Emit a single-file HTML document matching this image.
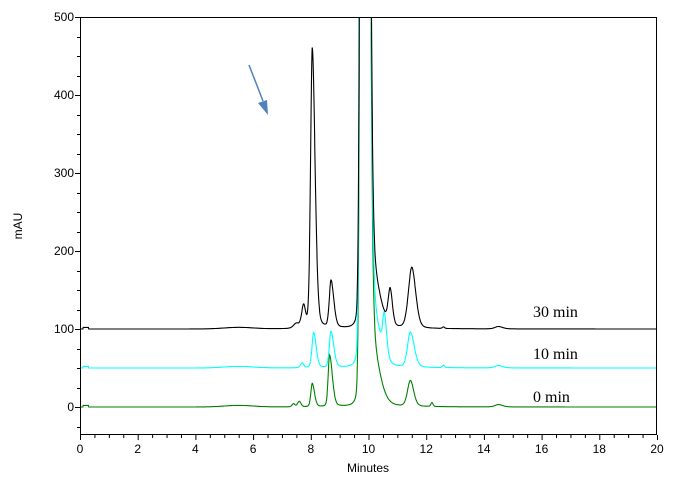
<!DOCTYPE html>
<html><head><meta charset="utf-8"><style>
html,body{margin:0;padding:0;background:#fff;}
svg{display:block;font-family:"Liberation Sans",sans-serif;}
</style></head><body>
<svg id="s" width="678" height="484" viewBox="0 0 678 484" xmlns="http://www.w3.org/2000/svg">
<defs><clipPath id="c"><rect x="80" y="17" width="577" height="418"/></clipPath></defs>
<rect x="0" y="0" width="678" height="484" fill="#fff"/>
<g id="ticks" stroke="#000" stroke-width="1"></g>
<g id="traces" clip-path="url(#c)" fill="none" stroke-width="1.1"></g>
<rect x="80.5" y="17.5" width="576" height="417" fill="none" stroke="#000"/>
<g font-size="12" text-anchor="end" id="ylab"></g>
<g font-size="12" text-anchor="middle" id="xlab"></g>
<text x="368" y="472" font-size="12" text-anchor="middle">Minutes</text>
<text transform="translate(22,226) rotate(-90)" font-size="12" text-anchor="middle">mAU</text>
<g font-family="Liberation Serif,serif" font-size="16">
<text x="533" y="317">30 min</text>
<text x="533" y="359">10 min</text>
<text x="533" y="402">0 min</text>
</g>
<line x1="249" y1="65" x2="263" y2="101" stroke="#4f81bd" stroke-width="1.5"/>
<polygon points="268,115 258,103 267,100" fill="#4f81bd"/>
</svg>
<script>
var X=function(t){return 80+t*28.85;},Y=function(v){return 407-0.78*v;};
var ns="http://www.w3.org/2000/svg",tk=document.getElementById('ticks'),d='';
for(var i=0;i<=40;i++){var x=X(i*0.5)+0.5;d+='M'+x+' 435v'+(i%4==0?5:3);}
for(var v=-25;v<=500;v+=25){var y=Math.round(Y(v))+0.5;d+='M80 '+y+'h'+(v%100==0?-5:-3);}
var p=document.createElementNS(ns,'path');p.setAttribute('d',d);tk.appendChild(p);
var yl=document.getElementById('ylab');
for(var v=0;v<=500;v+=100){var t=document.createElementNS(ns,'text');t.setAttribute('x',74);t.setAttribute('y',Y(v)+4);t.textContent=v;yl.appendChild(t);}
var xl=document.getElementById('xlab');
for(var m=0;m<=20;m+=2){var t=document.createElementNS(ns,'text');t.setAttribute('x',X(m));t.setAttribute('y',453);t.textContent=m;xl.appendChild(t);}
function pk(t,c,h,sl,sr){var dt=t-c,s=dt<0?sl:sr,z=dt/s;return h*(0.75*Math.exp(-0.5*z*z)+0.25/(1+z*z));}
function tr(base,peaks,col){
 var d='';
 for(var i=0;i<=2000;i++){var t=i*0.01,v=base;
  if(t<0.3&&t>0.1)v+=2;
  v+=2*Math.exp(-0.5*Math.pow((t-5.5)/0.5,2));v+=pk(t,14.5,3,0.12,0.15);
  v+=4000*Math.exp(-0.5*Math.pow((t-9.83)/(t<9.83?0.07:0.12),2))+pk(t,10.0,110,0.2,0.3);
  for(var j=0;j<peaks.length;j++){var q=peaks[j];v+=pk(t,q[0],q[1],q[2],q[3]);}
  d+=(i?'L':'M')+X(t).toFixed(1)+' '+Math.max(-50,Y(v)).toFixed(1);}
 var p=document.createElementNS(ns,'path');p.setAttribute('d',d);p.setAttribute('stroke',col);document.getElementById('traces').appendChild(p);}
tr(0,[[7.4,4,0.05,0.05],[7.6,7,0.06,0.06],[8.05,30,0.05,0.08],[8.65,66,0.05,0.1],[11.45,33,0.1,0.12],[12.2,5,0.04,0.04]],'#008000');
tr(50,[[7.7,6,0.06,0.06],[8.1,45,0.06,0.09],[8.7,46,0.06,0.1],[10.55,50,0.06,0.08],[11.45,45,0.1,0.14],[12.6,3,0.04,0.04]],'#00ffff');
tr(100,[[7.5,6,0.1,0.1],[7.75,28,0.07,0.07],[8.05,360,0.06,0.1],[8.7,60,0.06,0.1],[10.75,45,0.07,0.08],[11.5,78,0.12,0.14],[12.6,2,0.04,0.04]],'#000000');
</script>
</body></html>
